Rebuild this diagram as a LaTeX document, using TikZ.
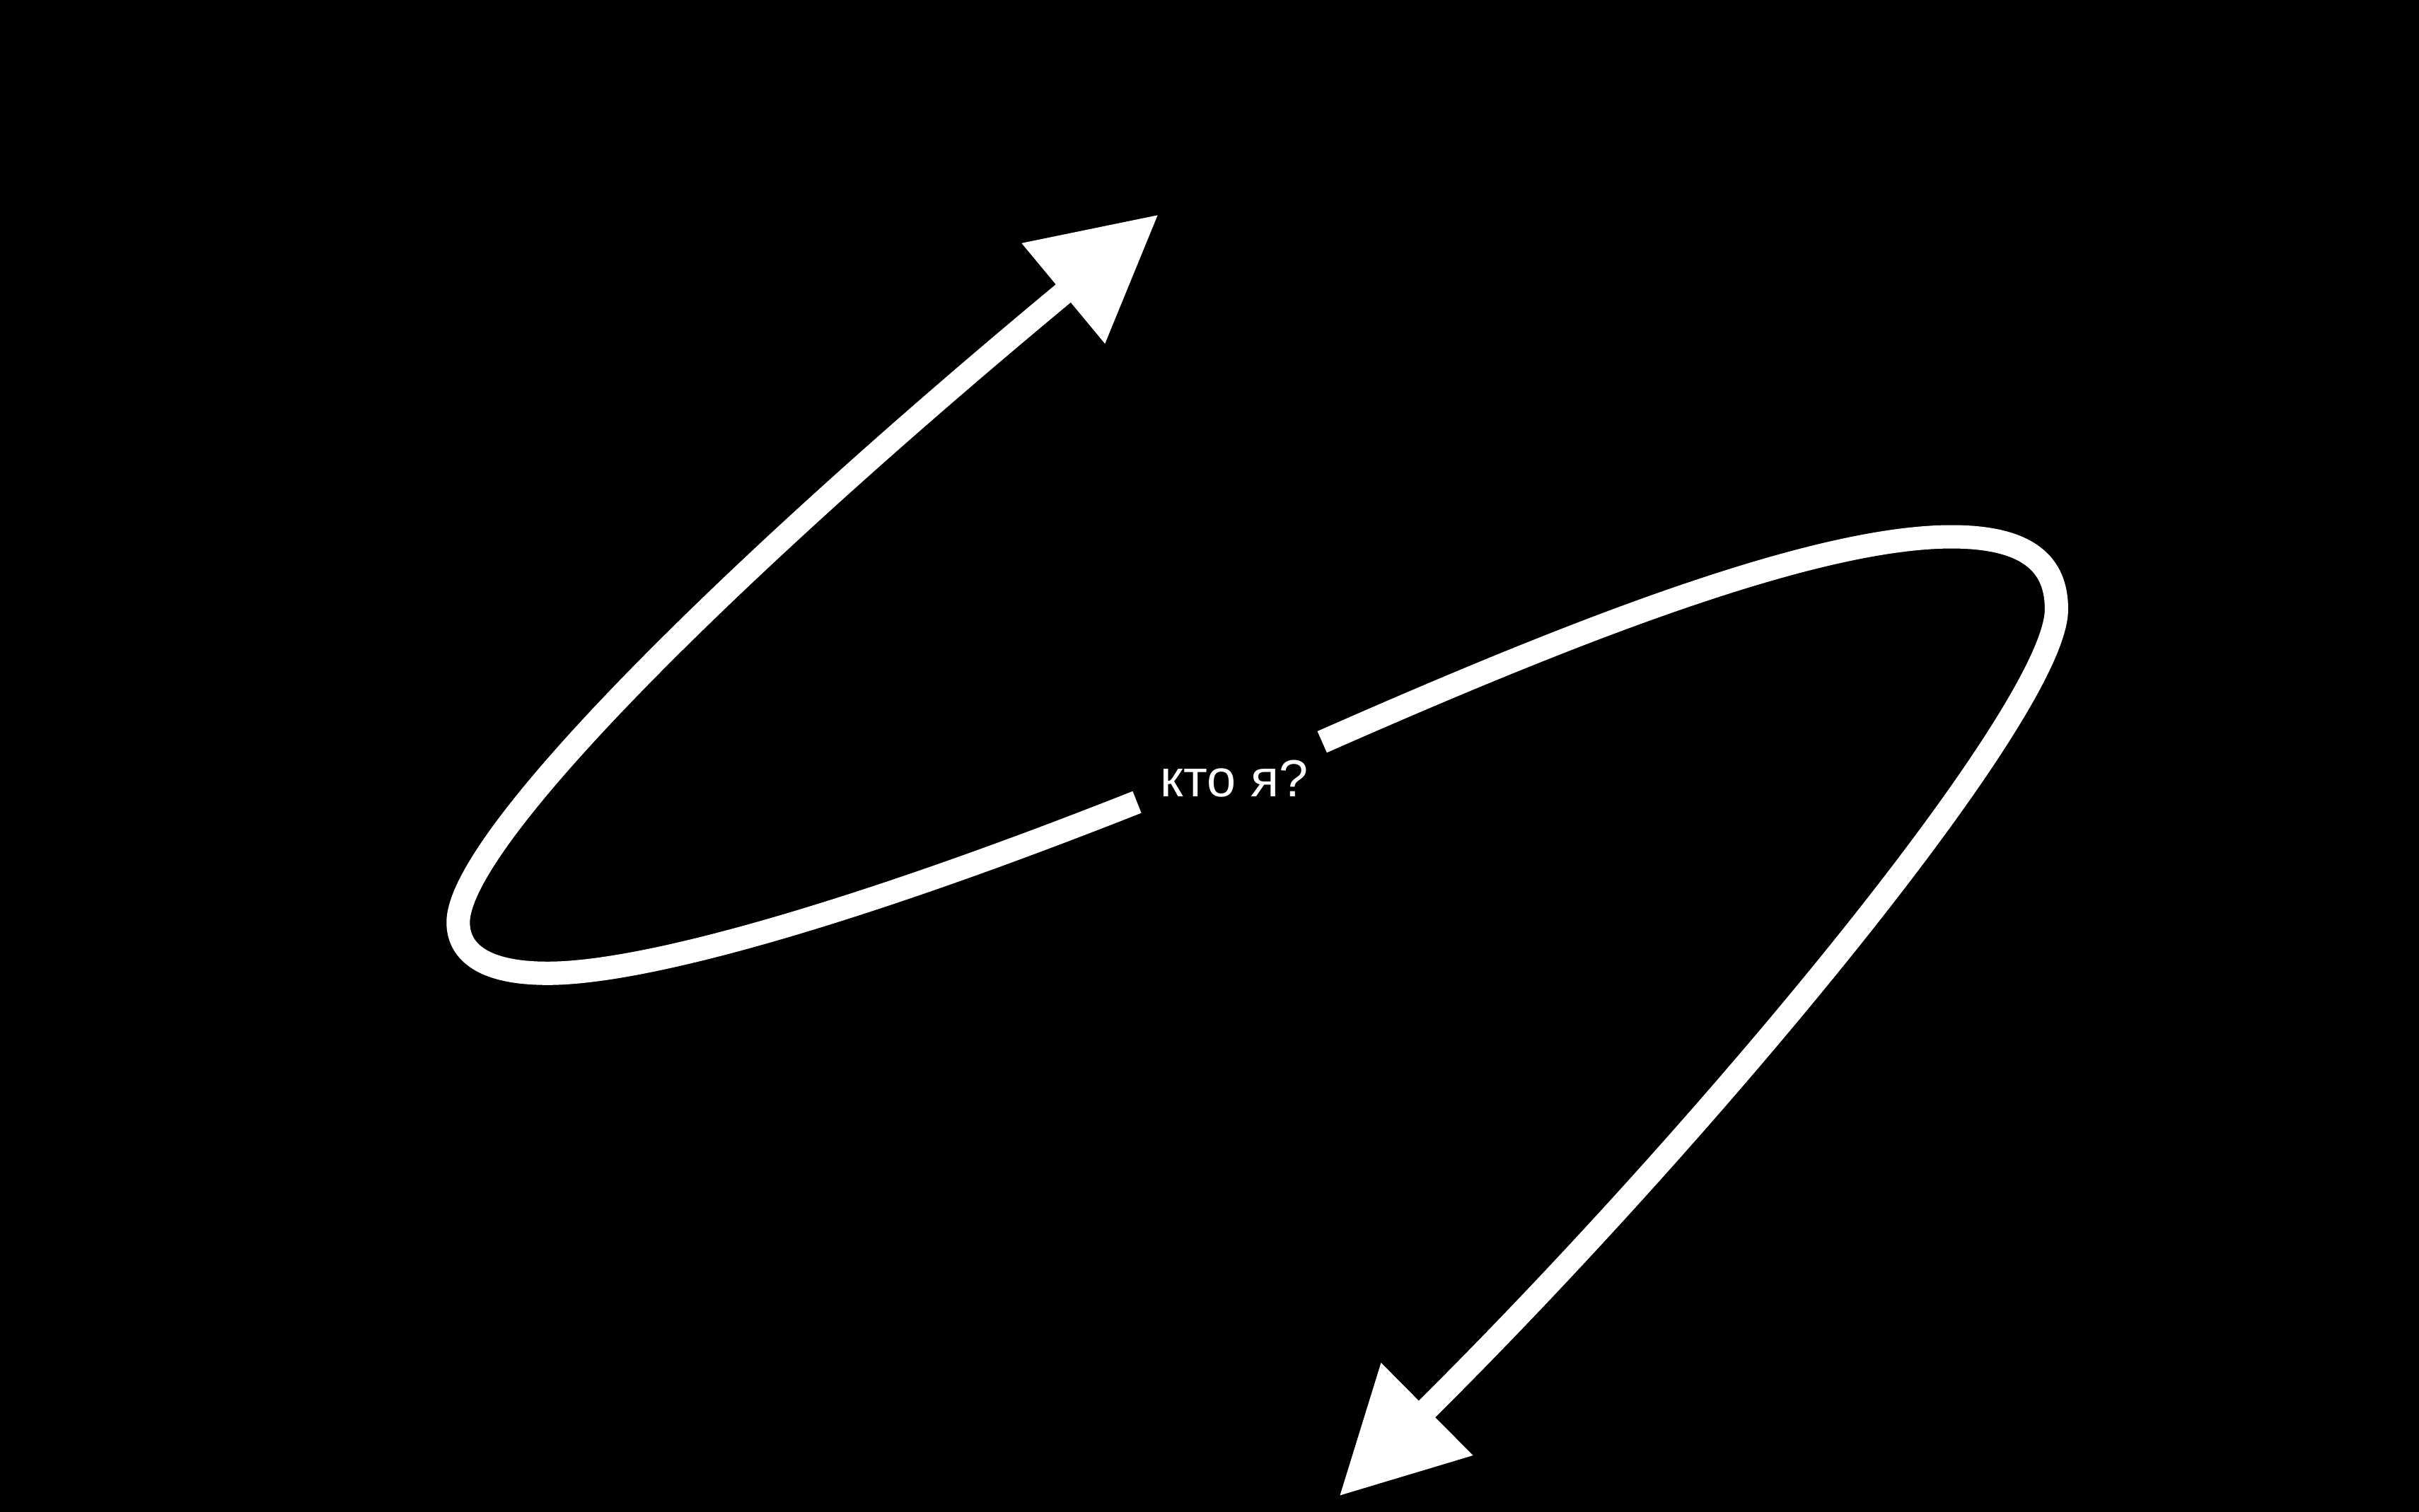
\documentclass[tikz,border=0pt]{standalone}
\usepackage{fontspec}
\setmainfont{Liberation Sans}
\usetikzlibrary{arrows.meta}

\tikzset{
  loopline/.style={white, line width=9.4pt, line cap=butt, -{Triangle[length=1.75cm, width=1.75cm]}},
  question/.style={white, font=\fontsize{21}{25}\selectfont, inner sep=0pt}
}

\begin{document}
\begin{tikzpicture}[x=0.02181cm, y=-0.02181cm]
  \fill [black] (0,0) rectangle (1568,980);
  \useasboundingbox (0,0) rectangle (1568,980);

  \node[question] (who) at (800,505) {кто я?};

  \coordinate (startleft) at (737,520);
  \coordinate (bottom) at (355,631);
  \coordinate (leftmost) at (297,598);
  \coordinate (tipup) at (751,139);

  \coordinate (startright) at (857,481);
  \coordinate (top) at (1265,348);
  \coordinate (rightmost) at (1333,395);
  \coordinate (tipdown) at (868,970);

  % lower-left loop, up to the arrow
  \draw [loopline] (startleft) .. controls (560,590) and (420,631) .. (bottom)
    .. controls (310,631) and (297,615) .. (leftmost)
    .. controls (297,545) and (470,372) .. (tipup);

  % upper-right loop, down to the arrow
  \draw [loopline] (startright) .. controls (1000,418) and (1170,348) .. (top)
    .. controls (1320,348) and (1333,370) .. (rightmost)
    .. controls (1333,460) and (1110,730) .. (tipdown);
\end{tikzpicture}
\end{document}
